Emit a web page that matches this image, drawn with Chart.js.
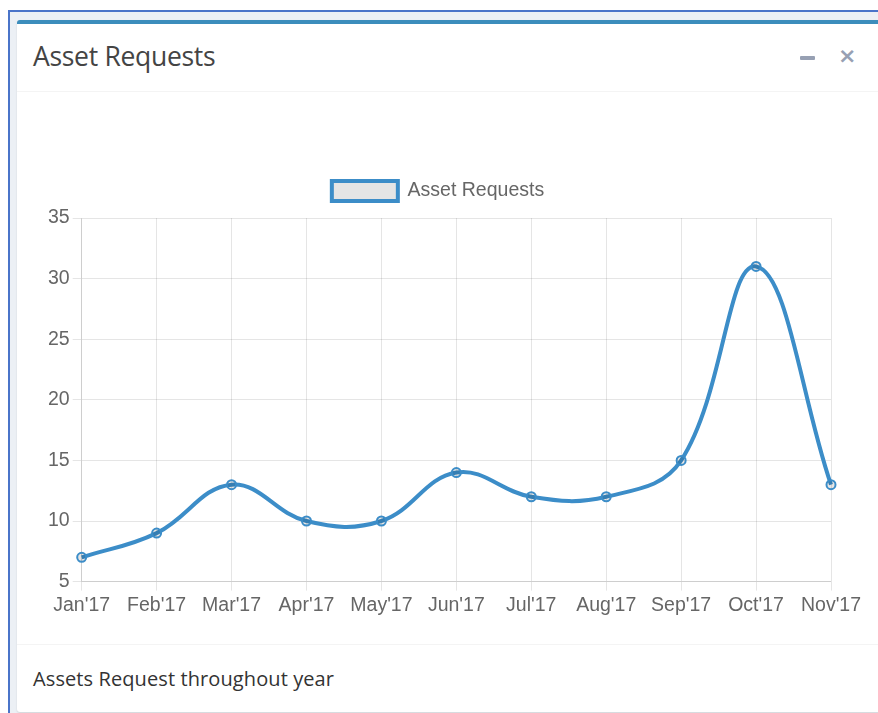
<!DOCTYPE html>
<html>
<head>
<meta charset="utf-8">
<script src="https://cdn.jsdelivr.net/npm/chart.js@4.4.1/dist/chart.umd.min.js"></script>
<style>
  body { margin: 0; background: #fff; width: 878px; height: 713px; overflow: hidden; position: relative; }
  .frame { position: absolute; left: 8px; top: 10px; width: 900px; height: 720px; background: #ecf0f5;
           border-left: 2px solid #4a74c9; border-top: 2px solid #4a74c9; }
  .box { position: absolute; left: 17px; top: 20px; width: 900px; height: 688px; background: #fff;
         border-top: 4px solid #3c8dbc; border-radius: 3px; box-shadow: 0 1px 2px rgba(0,0,0,0.12); }
  .box-header { position: absolute; left: 0; top: 0; width: 100%; height: 67px; border-bottom: 1px solid #f4f4f4; }
  .title { position: absolute; left: 16px; top: 14px; font-family: "Open Sans", sans-serif; font-size: 26.5px;
           color: #444; letter-spacing: -0.3px; }
  .tool-minus { position: absolute; left: 783px; top: 32px; width: 15px; height: 4px; background: #97a0b3; border-radius: 1px; }
  .tool-x { position: absolute; left: 821px; top: 19px; font-family: "DejaVu Sans", sans-serif; font-weight: bold;
            font-size: 22px; color: #97a0b3; }
  .chart-wrap { position: absolute; left: 16px; top: 76px; width: 850px; height: 520px; }
  .box-footer { position: absolute; left: 0; top: 620px; width: 100%; height: 64px; border-top: 1px solid #f4f4f4; }
  .footer-text { position: absolute; left: 16px; top: 20px; font-family: "Open Sans", sans-serif; font-size: 20px; color: #333;
                 letter-spacing: 0.1px; }
</style>
</head>
<body>
<div class="frame"></div>
<div class="box">
  <div class="box-header">
    <div class="title">Asset Requests</div>
    <div class="tool-minus"></div>
    <div class="tool-x">×</div>
  </div>
  <div class="chart-wrap"><canvas id="assetChart"></canvas></div>
  <div class="box-footer"><div class="footer-text">Assets Request throughout year</div></div>
</div>
<script>
// Chart data
const months = ["Jan'17", "Feb'17", "Mar'17", "Apr'17", "May'17", "Jun'17", "Jul'17", "Aug'17", "Sep'17", "Oct'17", "Nov'17"];
const assetRequests = [7, 9, 13, 10, 10, 14, 12, 12, 15, 31, 13];

const lineColor = "#3c8dc8";
const gridColor = "rgba(0,0,0,0.1)";
const tickFont = { family: "Liberation Sans, Arial", size: 19.5 };

// Extra space between legend and plot area
const legendSpacing = {
    id: "legendSpacing",
    beforeInit(chart) {
        const originalFit = chart.legend.fit;
        chart.legend.fit = function () {
            originalFit.bind(chart.legend)();
            this.height += 7;
        };
    },
};

const ctx = document.getElementById("assetChart").getContext("2d");
const assetChart = new Chart(ctx, {
    type: "line",
    data: {
        labels: months,
        datasets: [
            {
                label: "Asset Requests",
                data: assetRequests,
                borderColor: lineColor,
                backgroundColor: "rgba(0,0,0,0.1)",
                borderWidth: 4,
                pointRadius: 4.5,
                pointBorderWidth: 2,
                tension: 0.4,
                fill: false,
            },
        ],
    },
    options: {
        responsive: true,
        maintainAspectRatio: false,
        animation: false,
        layout: { padding: { top: 65, right: 52, bottom: 0, left: 12 } },
        plugins: {
            legend: {
                labels: {
                    boxWidth: 66,
                    boxHeight: 20,
                    padding: 16,
                    color: "#666",
                    font: tickFont,
                },
            },
            tooltip: { enabled: false },
        },
        scales: {
            x: {
                grid: { color: gridColor, tickLength: 9 },
                border: { color: gridColor },
                ticks: { color: "#666", font: tickFont, maxRotation: 0 },
            },
            y: {
                min: 5,
                max: 35,
                grid: { color: gridColor, tickLength: 9 },
                border: { color: gridColor },
                ticks: { stepSize: 5, color: "#666", font: tickFont },
            },
        },
    },
    plugins: [legendSpacing],
});
</script>
</body>
</html>
